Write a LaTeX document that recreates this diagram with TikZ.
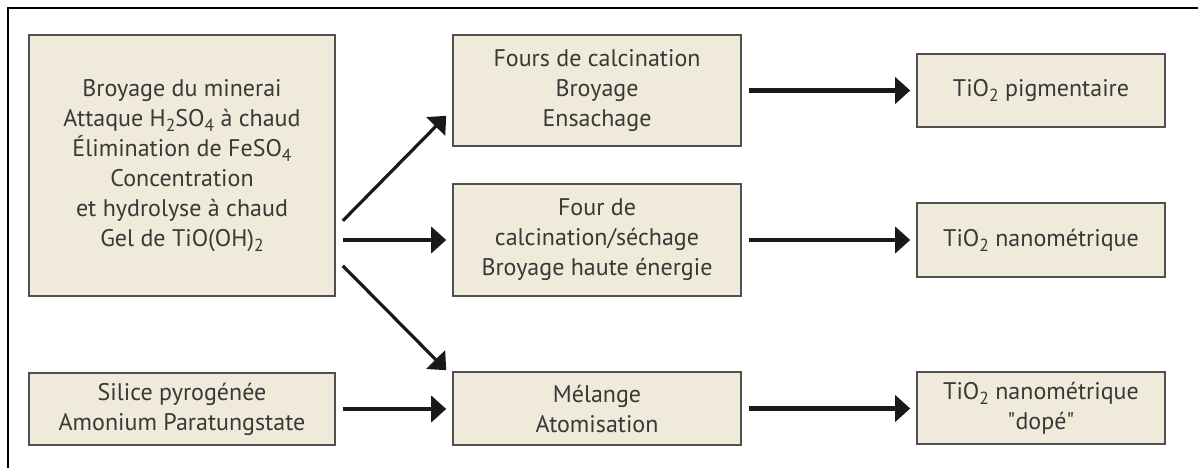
\documentclass[tikz,border=0pt]{standalone}
\usepackage{fontspec}
\setmainfont{PT Sans}
\usetikzlibrary{arrows.meta,calc}
\definecolor{boxfill}{HTML}{EFEAD9}
\definecolor{boxline}{HTML}{505050}
\definecolor{txt}{HTML}{383838}
\newcommand{\ind}[1]{\raisebox{-5pt}{\fontsize{17.5}{17.5}\selectfont #1}}
% straight double quote, taken as a glyph so that no text mapping curls it
\newcommand{\dq}{\XeTeXglyph\XeTeXcharglyph"22\relax}
\tikzset{
  procbox/.style={draw=boxline, fill=boxfill, line width=1.6pt, rectangle,
    align=center, inner sep=0pt, text=txt,
    font=\fontsize{24}{30}\selectfont},
  flow/.style={draw=black!90, line width=4.5pt,
    -{Triangle[length=15pt,width=26pt]}},
  slant/.style={flow, line width=3.2pt},
  frameline/.style={draw=black, line width=2pt}
}
\begin{document}
\begin{tikzpicture}[x=1pt,y=-1pt]
\useasboundingbox (0,0) rectangle (1198,468);
% outer frame (open at the right and bottom)
\draw[frameline] (8,468) -- (8,8) -- (1198,8);

% left column
\node[procbox, minimum width=306pt, minimum height=261pt] (A) at (182,165.5)
  {Broyage du minerai\\
   Attaque H\ind{2}SO\ind{4} à chaud\\
   Élimination de FeSO\ind{4}\\
   Concentration\\
   et hydrolyse à chaud\\
   Gel de TiO(OH)\ind{2}};
\node[procbox, minimum width=306pt, minimum height=72pt] (S) at (182,409)
  {Silice pyrogénée\\ Amonium Paratungstate};

% middle column
\node[procbox, minimum width=288pt, minimum height=111pt] (F1) at (597,90.5)
  {Fours de calcination\\ Broyage\\ Ensachage};
\node[procbox, minimum width=288pt, minimum height=112pt] (F2) at (597,240)
  {Four de\\ calcination/séchage\\ Broyage haute énergie};
\node[procbox, minimum width=288pt, minimum height=73pt] (F3) at (597,408.5)
  {Mélange\\ Atomisation};

% right column
\node[procbox, minimum width=248pt, minimum height=73pt] (R1) at (1041,90.5)
  {TiO\ind{2} pigmentaire};
\node[procbox, minimum width=248pt, minimum height=74pt] (R2) at (1041,240)
  {TiO\ind{2} nanométrique};
\node[procbox, minimum width=248pt, minimum height=72pt] (R3) at (1041,408)
  {TiO\ind{2} nanométrique\\ \dq dopé\dq};

% connectors
\draw[slant] ($(A.south east)+(7,-76)$) -- ($(F1.south west)+(-6,-31)$);
\draw[flow, shorten <=7pt, shorten >=6pt] (A.east |- F2.west) -- (F2.west);
\draw[slant] ($(A.south east)+(7,-31)$) -- ($(F3.north west)+(-6,-1)$);
\draw[flow, shorten <=7pt, shorten >=6pt] (S.east) -- (S.east -| F3.west);

\draw[flow, shorten <=7pt, shorten >=6pt] (F1.east) -- (F1.east -| R1.west);
\draw[flow, shorten <=7pt, shorten >=6pt] (F2.east) -- (F2.east -| R2.west);
\draw[flow, shorten <=7pt, shorten >=6pt] (F3.east) -- (F3.east -| R3.west);
\end{tikzpicture}
\end{document}
